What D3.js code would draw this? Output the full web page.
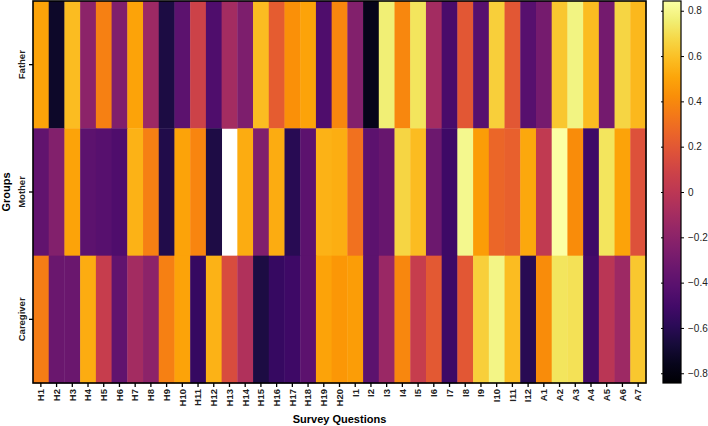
<!DOCTYPE html>
<html>
<head>
<meta charset="utf-8">
<script src="https://cdn.jsdelivr.net/npm/d3@7"></script>
<style>
  body { margin: 0; background: #fff; }
  svg text { font-family: "Liberation Sans", Arial, sans-serif; }
</style>
</head>
<body>
<div id="chart"></div>
<script>
const questions = ["H1","H2","H3","H4","H5","H6","H7","H8","H9","H10",
  "H11","H12","H13","H14","H15","H16","H17","H18","H19","H20",
  "I1","I2","I3","I4","I5","I6","I7","I8","I9","I10","I11","I12",
  "A1","A2","A3","A4","A5","A6","A7"];
const groups = ["Father", "Mother", "Caregiver"];

// values (H13 Mother is blank in the original)
const fatherVals = [0.50,-0.72,0.58,-0.20,0.37,-0.25,0.50,-0.13,-0.65,-0.40,
  0.08,-0.45,-0.10,-0.26,0.58,0.22,0.43,0.50,-0.45,0.40,
  -0.24,-0.77,0.76,0.40,0.72,-0.10,-0.48,0.20,-0.42,0.65,0.20,-0.42,
  -0.29,0.62,0.78,0.58,-0.30,0.67,0.57];
const motherVals = [-0.38,-0.24,0.50,-0.40,-0.42,-0.45,0.55,0.37,-0.63,0.50,
  0.39,-0.64,null,0.53,-0.25,0.53,-0.60,-0.40,0.55,0.54,
  0.31,-0.40,-0.35,0.67,0.58,-0.33,-0.52,0.80,0.48,0.27,0.24,0.52,
  0.02,0.85,0.42,-0.52,0.72,0.50,0.17];
const caregiverVals = [0.36,-0.34,-0.34,0.53,0.05,-0.38,-0.10,-0.20,0.37,0.50,
  -0.55,0.55,0.14,-0.05,-0.65,-0.55,-0.52,-0.40,0.50,0.46,
  0.48,-0.40,-0.14,0.40,0.05,0.21,-0.52,0.20,0.65,0.79,0.58,-0.60,
  0.42,0.72,0.71,-0.50,0.00,-0.13,0.62];
const cbTicks = [0.8,0.6,0.4,0.2,0,-0.2,-0.4,-0.6,-0.8];

const W = 708, H = 426;
const pL = 33, pR = 646, pT = 1, pB = 383;

const svg = d3.select("#chart").append("svg")
  .attr("width", W).attr("height", H);

const x = d3.scaleBand().domain(questions).range([pL, pR]);
const y = d3.scaleBand().domain(groups).range([pT, pB]);
const color = d3.scaleSequential(d3.interpolateInferno).domain([-0.843, 0.843]);

const rows = [fatherVals, motherVals, caregiverVals];
const cells = [];
rows.forEach(function(vals, r) {
  vals.forEach(function(v, c) {
    cells.push({ g: groups[r], q: questions[c], v: v });
  });
});

svg.append("g")
  .selectAll("rect")
  .data(cells.filter(function(d) { return d.v !== null; }))
  .enter().append("rect")
  .attr("x", function(d) { return x(d.q); })
  .attr("y", function(d) { return y(d.g); })
  .attr("width", x.bandwidth() + 0.4)
  .attr("height", y.bandwidth() + 0.4)
  .attr("fill", function(d) { return color(d.v); });

// frame
svg.append("rect")
  .attr("x", pL).attr("y", pT)
  .attr("width", pR - pL).attr("height", pB - pT)
  .attr("fill", "none").attr("stroke", "#000").attr("stroke-width", 1.6);

// x axis
const xAxis = svg.append("g")
  .attr("transform", "translate(0," + pB + ")")
  .call(d3.axisBottom(x).tickSize(4).tickPadding(3));
xAxis.select(".domain").remove();
xAxis.selectAll("line").attr("stroke-width", 1.3);
xAxis.selectAll("text")
  .attr("transform", "rotate(-90)")
  .attr("x", -6).attr("y", 0).attr("dy", "0.35em")
  .style("text-anchor", "end")
  .style("font-size", "9.5px").style("font-weight", "bold").attr("fill", "#222");

// y axis
const yAxis = svg.append("g")
  .attr("transform", "translate(" + pL + ",0)")
  .call(d3.axisLeft(y).tickSize(4).tickPadding(3));
yAxis.select(".domain").remove();
yAxis.selectAll("line").attr("stroke-width", 1.3);
yAxis.selectAll("text")
  .attr("transform", "rotate(-90)")
  .attr("x", 0).attr("y", -8).attr("dy", 0)
  .style("text-anchor", "middle")
  .style("font-size", "9.5px").style("font-weight", "bold").attr("fill", "#222");

svg.append("text")
  .attr("x", (pL + pR) / 2).attr("y", 423)
  .attr("text-anchor", "middle")
  .style("font-size", "11px").style("font-weight", "bold")
  .text("Survey Questions");

svg.append("text")
  .attr("transform", "translate(10," + ((pT + pB) / 2) + ") rotate(-90)")
  .attr("text-anchor", "middle")
  .style("font-size", "11px").style("font-weight", "bold")
  .text("Groups");

// colorbar
const cbX = 663, cbW = 18;
const cbScale = d3.scaleLinear().domain([-0.843, 0.843]).range([pB, pT]);
const defs = svg.append("defs");
const grad = defs.append("linearGradient")
  .attr("id", "cbgrad").attr("x1", 0).attr("y1", 1).attr("x2", 0).attr("y2", 0);
d3.range(0, 1.0001, 0.05).forEach(function(t) {
  grad.append("stop").attr("offset", t).attr("stop-color", d3.interpolateInferno(t));
});
svg.append("rect")
  .attr("x", cbX).attr("y", pT)
  .attr("width", cbW).attr("height", pB - pT)
  .attr("fill", "url(#cbgrad)")
  .attr("stroke", "#000").attr("stroke-width", 1.2);

const cbAxis = svg.append("g")
  .attr("transform", "translate(" + (cbX + cbW) + ",0)")
  .call(d3.axisRight(cbScale).tickValues(cbTicks).tickSize(3).tickPadding(4)
    .tickFormat(function(d) { return d === 0 ? "0" : d3.format(".1f")(d); }));
cbAxis.select(".domain").remove();
cbAxis.selectAll("text").style("font-size", "10px").attr("fill", "#222");

svg.append("g")
  .attr("transform", "translate(" + cbX + ",0)")
  .call(d3.axisLeft(cbScale).tickValues(cbTicks).tickSize(2).tickFormat(""))
  .select(".domain").remove();
</script>
</body>
</html>
